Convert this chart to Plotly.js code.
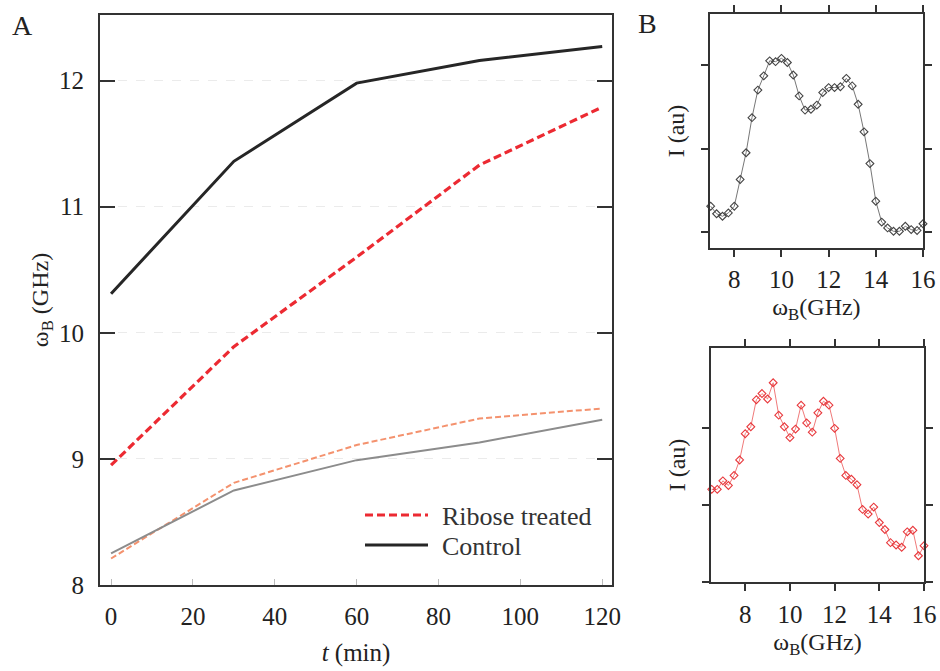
<!DOCTYPE html>
<html><head><meta charset="utf-8">
<script src="https://cdn.plot.ly/plotly-3.0.1.min.js"></script>
<style>html,body{margin:0;padding:0;background:#fff}</style>
</head><body><div id="chart" style="width:940px;height:671px"></div>
<script>
// Panel A data
const time = [0, 30, 60, 90, 120];
const ribose = [8.95, 9.89, 10.6, 11.33, 11.79];
const control = [10.31, 11.36, 11.98, 12.16, 12.27];
const riboseLow = [8.21, 8.81, 9.11, 9.32, 9.40];
const controlLow = [8.25, 8.75, 8.99, 9.13, 9.31];
const timeTicks = [0, 20, 40, 60, 80, 100, 120];
const freqAxisTicks = [8, 9, 10, 11, 12];
const legendNames = ['Ribose treated', 'Control'];

// Panel B data
const freqTop = [7, 7.25, 7.5, 7.75, 8, 8.25, 8.5, 8.75, 9, 9.25, 9.5, 9.75, 10, 10.25, 10.5, 10.75, 11, 11.25, 11.5, 11.75, 12, 12.25, 12.5, 12.75, 13, 13.25, 13.5, 13.75, 14, 14.25, 14.5, 14.75, 15, 15.25, 15.5, 15.75, 16];
const intensityTop = [0.31, 0.22, 0.19, 0.23, 0.31, 0.63, 0.95, 1.37, 1.70, 1.87, 2.05, 2.04, 2.08, 2.03, 1.88, 1.63, 1.46, 1.47, 1.52, 1.67, 1.73, 1.73, 1.74, 1.84, 1.75, 1.53, 1.20, 0.82, 0.37, 0.12, 0.05, 0.01, 0.01, 0.07, 0.03, 0.02, 0.10];
const freqBottom = [6.5, 6.75, 7, 7.25, 7.5, 7.75, 8, 8.25, 8.5, 8.75, 9, 9.25, 9.5, 9.75, 10, 10.25, 10.5, 10.75, 11, 11.25, 11.5, 11.75, 12, 12.25, 12.5, 12.75, 13, 13.25, 13.5, 13.75, 14, 14.25, 14.5, 14.75, 15, 15.25, 15.5, 15.75, 16];
const intensityBottom = [1.20, 1.20, 1.31, 1.25, 1.38, 1.58, 1.92, 2.01, 2.36, 2.44, 2.37, 2.58, 2.16, 2.01, 1.87, 1.98, 2.29, 2.06, 1.94, 2.19, 2.34, 2.29, 1.99, 1.60, 1.38, 1.33, 1.26, 0.94, 0.88, 0.97, 0.77, 0.68, 0.51, 0.48, 0.45, 0.65, 0.67, 0.34, 0.47];
const bFreqTicks = [8, 10, 12, 14, 16];
const bIntTicks = [0, 1, 2];

const FONT = '"Liberation Serif", "Times New Roman", serif';
const AX = '#333';
const RED = '#ec2a32';
const BLACK = '#262626';

const traces = [
  {x: time, y: riboseLow, mode: 'lines', line: {color: '#f4926e', width: 2, dash: '6px,3px'}, showlegend: false, hoverinfo: 'skip'},
  {x: time, y: controlLow, mode: 'lines', line: {color: '#8c8c8c', width: 2}, showlegend: false, hoverinfo: 'skip'},
  {x: time, y: ribose, mode: 'lines', name: legendNames[0], showlegend: false, line: {color: RED, width: 3.2, dash: '8px,4px'}},
  {x: time, y: control, mode: 'lines', name: legendNames[1], showlegend: false, line: {color: BLACK, width: 3}},
  {x: freqTop, y: intensityTop, xaxis: 'x2', yaxis: 'y2', mode: 'lines+markers', showlegend: false, cliponaxis: false,
   line: {color: '#777', width: 1}, marker: {symbol: 'diamond-open', size: 6, color: '#444', line: {width: 1.1}}},
  {x: freqBottom, y: intensityBottom, xaxis: 'x3', yaxis: 'y3', mode: 'lines+markers', showlegend: false, cliponaxis: false,
   line: {color: '#f07a7a', width: 1}, marker: {symbol: 'diamond-open', size: 6, color: '#e8383c', line: {width: 1.1}}}
];

function bAxis(extra) {
  return Object.assign({
    showline: true, linecolor: AX, linewidth: 2, mirror: 'ticks', ticks: 'outside', ticklen: 7, tickwidth: 2,
    tickcolor: AX, showgrid: false, zeroline: false, tickfont: {family: FONT, size: 25, color: '#222'}
  }, extra);
}
function bOverlay(extra) {
  return Object.assign({
    showline: false, mirror: 'ticks', ticks: 'inside', ticklen: 7, tickwidth: 2, tickcolor: AX,
    showgrid: false, zeroline: false, showticklabels: false
  }, extra);
}

const px = v => v / 940;
const py = v => 1 - v / 671;

const layout = {
  width: 940, height: 671,
  margin: {l: 0, r: 0, t: 0, b: 0},
  paper_bgcolor: '#fff', plot_bgcolor: '#fff',
  font: {family: FONT, color: '#222'},
  showlegend: false,
  xaxis: {domain: [0.1064, 0.6511], anchor: 'y', range: [-2.7, 122.4], tickvals: timeTicks,
          ticks: 'inside', ticklen: 6, tickwidth: 1, tickcolor: '#bbb', ticklabelstandoff: 8,
          showline: true, linecolor: AX, linewidth: 2, mirror: true, showgrid: false, zeroline: false,
          tickfont: {family: FONT, size: 25, color: '#222'},
          title: {text: '<i>t</i> (min)', font: {family: FONT, size: 25, color: '#222'}, standoff: 15}},
  yaxis: {domain: [0.1282, 0.9776], anchor: 'x', range: [8, 12.52], tickvals: freqAxisTicks,
          ticks: 'inside', ticklen: 15, tickwidth: 2, tickcolor: AX, ticklabelstandoff: 9,
          showline: true, linecolor: AX, linewidth: 2, mirror: 'ticks',
          showgrid: true, gridcolor: '#ebebeb', griddash: 'dash', gridwidth: 1, zeroline: false,
          tickfont: {family: FONT, size: 25, color: '#222'},
          title: {text: 'ω<sub>B</sub> (GHz)', font: {family: FONT, size: 24, color: '#222'}, standoff: 4}},
  xaxis2: bAxis({domain: [0.7553, 0.9819], anchor: 'y2', range: [6.97, 16.0], tickvals: bFreqTicks, ticklabelstandoff: 1,
          title: {text: 'ω<sub>B</sub>(GHz)', font: {family: FONT, size: 24, color: '#222'}, standoff: 6}}),
  yaxis2: bAxis({domain: [0.6304, 0.9791], anchor: 'x2', range: [-0.19, 2.61], tickvals: bIntTicks, showticklabels: false,
          title: {text: 'I (au)', font: {family: FONT, size: 24, color: '#222'}, standoff: 10}}),
  xaxis3: bAxis({domain: [0.7564, 0.9830], anchor: 'y3', range: [6.47, 16.0], tickvals: bFreqTicks, ticklabelstandoff: 2,
          title: {text: 'ω<sub>B</sub>(GHz)', font: {family: FONT, size: 24, color: '#222'}, standoff: 6}}),
  yaxis3: bAxis({domain: [0.1326, 0.4814], anchor: 'x3', range: [0, 3.03], tickvals: bIntTicks, showticklabels: false,
          title: {text: 'I (au)', font: {family: FONT, size: 24, color: '#222'}, standoff: 10}}),
  xaxis4: bOverlay({overlaying: 'x2', anchor: 'y4', range: [6.97, 16.0], tickvals: bFreqTicks}),
  yaxis4: bOverlay({overlaying: 'y2', anchor: 'x4', range: [-0.19, 2.61], tickvals: bIntTicks}),
  xaxis5: bOverlay({overlaying: 'x3', anchor: 'y5', range: [6.47, 16.0], tickvals: bFreqTicks}),
  yaxis5: bOverlay({overlaying: 'y3', anchor: 'x5', range: [0, 3.03], tickvals: bIntTicks}),
  shapes: [
    {type: 'line', xref: 'paper', yref: 'paper', x0: px(365), x1: px(428), y0: py(515), y1: py(515),
     line: {color: RED, width: 3.2, dash: '8px,4px'}},
    {type: 'line', xref: 'paper', yref: 'paper', x0: px(365), x1: px(428), y0: py(545), y1: py(545),
     line: {color: BLACK, width: 3}}
  ],
  annotations: [
    {text: legendNames[0], xref: 'paper', yref: 'paper', x: px(440), y: py(516), xanchor: 'left', yanchor: 'middle', showarrow: false,
     font: {family: FONT, size: 26, color: '#333'}},
    {text: legendNames[1], xref: 'paper', yref: 'paper', x: px(440), y: py(546), xanchor: 'left', yanchor: 'middle', showarrow: false,
     font: {family: FONT, size: 26, color: '#333'}},
    {text: 'A', xref: 'paper', yref: 'paper', x: px(10), y: py(8), xanchor: 'left', yanchor: 'top', showarrow: false,
     font: {family: FONT, size: 28, color: '#222'}},
    {text: 'B', xref: 'paper', yref: 'paper', x: px(636), y: py(6), xanchor: 'left', yanchor: 'top', showarrow: false,
     font: {family: FONT, size: 28, color: '#222'}}
  ]
};

Plotly.newPlot('chart', traces, layout, {displayModeBar: false, staticPlot: true});
</script>
</body></html>
